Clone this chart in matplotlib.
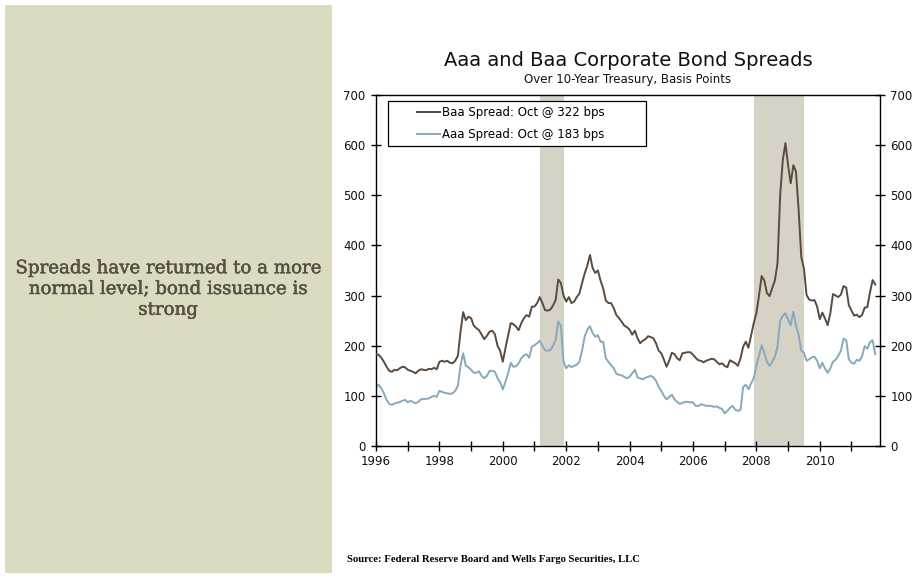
import numpy as np
import matplotlib
matplotlib.use("Agg")
import matplotlib.pyplot as plt
import matplotlib.patheffects as pe
from matplotlib.patches import Rectangle
from matplotlib.lines import Line2D

# ---------------- data (monthly, Jan 1996 - Oct 2011, basis points) ----------------
start_year = 1996
baa_spread = [
    # 1996
    183, 182, 176, 168, 158, 150, 148, 152, 151, 155, 158, 157,
    # 1997
    152, 150, 148, 145, 150, 153, 152, 151, 154, 153, 156, 153,
    # 1998
    168, 170, 168, 170, 166, 165, 170, 180, 228, 267, 251, 258,
    # 1999
    255, 240, 235, 231, 222, 213, 220, 228, 230, 223, 200, 190,
    # 2000
    168, 195, 220, 245, 243, 238, 231, 245, 255, 261, 258, 278,
    # 2001
    278, 285, 297, 285, 271, 270, 272, 280, 291, 332, 325, 300,
    # 2002
    288, 297, 285, 288, 297, 304, 325, 344, 360, 381, 355, 345,
    # 2003
    350, 330, 314, 290, 285, 285, 275, 261, 255, 248, 240, 237,
    # 2004
    232, 222, 230, 215, 205, 210, 213, 219, 217, 215, 205, 190,
    # 2005
    185, 172, 158, 170, 186, 183, 175, 171, 185, 186, 187, 187,
    # 2006
    182, 176, 171, 170, 167, 170, 172, 174, 173, 168, 163, 165,
    # 2007
    160, 157, 171, 168, 165, 160, 175, 198, 208, 196, 220, 245,
    # 2008
    265, 300, 339, 330, 305, 299, 315, 330, 364, 500, 570, 604,
    # 2009
    560, 524, 560, 547, 470, 377, 354, 301, 292, 290, 291, 278,
    # 2010
    253, 266, 254, 241, 265, 303, 300, 297, 302, 319, 316, 281,
    # 2011
    270, 260, 262, 257, 261, 276, 277, 306, 331, 322,
]
aaa_spread = [
    # 1996
    118, 122, 115, 105, 92, 84, 82, 85, 86, 88, 90, 92,
    # 1997
    87, 90, 88, 85, 88, 93, 94, 94, 95, 98, 100, 98,
    # 1998
    110, 108, 106, 105, 104, 105, 110, 120, 160, 185, 160, 157,
    # 1999
    152, 146, 146, 149, 140, 135, 140, 150, 150, 148, 135, 127,
    # 2000
    113, 128, 145, 166, 158, 159, 165, 175, 181, 183, 176, 198,
    # 2001
    201, 205, 210, 200, 191, 190, 191, 200, 211, 248, 240, 168,
    # 2002
    155, 161, 157, 160, 162, 168, 190, 218, 232, 239, 225, 218,
    # 2003
    221, 208, 208, 175, 168, 161, 155, 144, 142, 141, 138, 135,
    # 2004
    138, 145, 152, 137, 135, 133, 136, 138, 140, 137, 130, 118,
    # 2005
    110, 100, 93, 98, 102, 93, 88, 84, 86, 88, 88, 87,
    # 2006
    87, 80, 80, 83, 82, 80, 80, 80, 78, 79, 76, 74,
    # 2007
    65, 70, 76, 80, 72, 70, 72, 118, 122, 113, 125, 135,
    # 2008
    160, 180, 201, 186, 168, 160, 168, 178, 198, 250, 260, 265,
    # 2009
    252, 241, 268, 240, 222, 190, 186, 170, 173, 177, 178, 170,
    # 2010
    155, 166, 154, 146, 155, 168, 172, 180, 190, 214, 211, 173,
    # 2011
    166, 164, 172, 170, 179, 199, 194, 207, 211, 183,
]
recessions = [(2001.17, 2001.92), (2007.92, 2009.50)]
baa_label = "Baa Spread: Oct @ 322 bps"
aaa_label = "Aaa Spread: Oct @ 183 bps"
title = "Aaa and Baa Corporate Bond Spreads"
subtitle = "Over 10-Year Treasury, Basis Points"
panel_text = "Spreads have returned to a more\nnormal level; bond issuance is\nstrong"
source_text = "Source: Federal Reserve Board and Wells Fargo Securities, LLC"
y_ticks = [0, 100, 200, 300, 400, 500, 600, 700]
x_tick_years = list(range(1996, 2012))

t = start_year + np.arange(len(baa_spread)) / 12.0

# ---------------- figure ----------------
W, H = 915, 578
fig = plt.figure(figsize=(W / 100, H / 100), dpi=100)
fig.patch.set_facecolor("white")

# left beige panel
fig.patches.append(Rectangle((5 / W, 1 - 573 / H), (332 - 5) / W, (573 - 5) / H,
                             transform=fig.transFigure, facecolor="#dadbc0",
                             edgecolor="none", zorder=0))
PANEL_C = "#594e43"
fig.text(168 / W, 1 - 289 / H, panel_text, ha="center", va="center",
         fontsize=13.1, color=PANEL_C, family="DejaVu Serif",
         fontweight="normal", linespacing=1.2,
         path_effects=[pe.withStroke(linewidth=0.35, foreground=PANEL_C)])

L, R, T, B = 376, 880, 95, 446
ax = fig.add_axes([L / W, 1 - B / H, (R - L) / W, (B - T) / H])

BAA_C = "#5b4a3e"
AAA_C = "#87a8bd"
REC_C = "#d6d3c6"

for a, b in recessions:
    ax.axvspan(a, b, color=REC_C, lw=0, zorder=0)

ax.plot(t, aaa_spread, color=AAA_C, lw=1.4, zorder=2)
ax.plot(t, baa_spread, color=BAA_C, lw=1.4, zorder=3)

ax.set_xlim(1996.0, 2011.9)
ax.set_ylim(0, 700)
ax.set_yticks(y_ticks)
ax.set_xticks(x_tick_years)
ax.set_xticklabels([str(y) if y % 2 == 0 else "" for y in x_tick_years])

ax.tick_params(axis="both", direction="inout", length=7, width=1,
               labelsize=8.5, color="black", labelcolor="#111111")
ax.tick_params(axis="y", right=True, labelright=True, pad=4)
ax.tick_params(axis="x", pad=3)
for s in ax.spines.values():
    s.set_linewidth(1.0)
    s.set_color("black")

# legend box + entries
x0 = (388 - L) / (R - L)
x1 = (646 - L) / (R - L)
y_top = (B - 101) / (B - T)
y_bot = (B - 146) / (B - T)
ax.add_patch(Rectangle((x0, y_bot), x1 - x0, y_top - y_bot, transform=ax.transAxes,
                       facecolor="white", edgecolor="black", lw=0.9, zorder=5))
handles = [Line2D([], [], color=BAA_C, lw=1.4), Line2D([], [], color=AAA_C, lw=1.4)]
leg = ax.legend(handles, [baa_label, aaa_label], loc="upper left",
                bbox_to_anchor=((412 - L) / (R - L), (B - 101) / (B - T)),
                frameon=False, fontsize=8.5, handlelength=1.9, handletextpad=0.15,
                labelspacing=0.75, borderpad=0.45, borderaxespad=0)
leg.set_zorder(6)

fig.text(628 / W, 1 - 61 / H, title, ha="center", va="center", fontsize=14,
         color="#111111", family="DejaVu Sans")
fig.text(628 / W, 1 - 80 / H, subtitle, ha="center", va="center", fontsize=8.5,
         color="#111111", family="DejaVu Sans")
fig.text(347 / W, 1 - 560 / H, source_text, ha="left", va="center", fontsize=7.7,
         color="black", family="Liberation Serif", fontweight="bold")

fig.savefig("out.png", dpi=100)
